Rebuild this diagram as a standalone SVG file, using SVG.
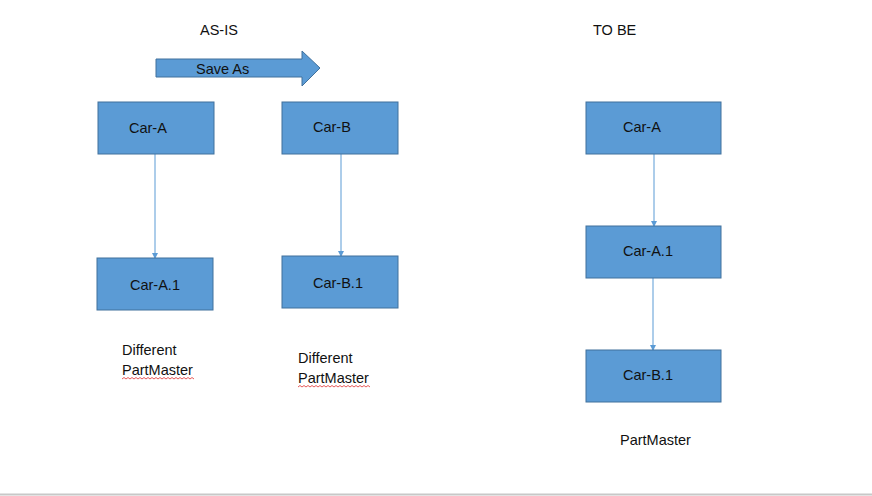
<svg xmlns="http://www.w3.org/2000/svg" width="872" height="496" viewBox="0 0 872 496">
<style>
.box{fill:#5B9BD5;stroke:#41719C;stroke-width:1}
.t{font-family:"Liberation Sans",Arial,sans-serif;font-size:14.5px;fill:#111}
.c{stroke:#5B9BD5;stroke-width:1;fill:none;marker-end:url(#ah)}
.sq{stroke:#e03030;stroke-width:0.8;fill:none}
</style>
<defs>
<marker id="ah" markerWidth="6" markerHeight="6" refX="5" refY="3" orient="auto" markerUnits="userSpaceOnUse">
<path d="M0,0 L6,3 L0,6 Z" fill="#5B9BD5"/>
</marker>
</defs>
<rect x="0" y="0" width="872" height="496" fill="#fff"/>
<text class="t" x="200" y="35">AS-IS</text>
<text class="t" x="593" y="35">TO BE</text>
<g id="saveas">
<path d="M156,59 L302,59 L302,51 L320,68 L302,86 L302,77 L156,77 Z" fill="#5B9BD5" stroke="#41719C" stroke-width="1"/>
<text class="t" x="196" y="74">Save As</text>
</g>
<g id="connectors">
<line class="c" x1="155" y1="154" x2="155" y2="258"/>
<line class="c" x1="341" y1="154" x2="341" y2="256"/>
<line class="c" x1="654" y1="154" x2="654" y2="226"/>
<line class="c" x1="653" y1="278" x2="653" y2="350"/>
</g>
<g id="carA"><rect class="box" x="98" y="102" width="116" height="52"/><text class="t" x="129" y="133">Car-A</text></g>
<g id="carA1"><rect class="box" x="97" y="258" width="116" height="52"/><text class="t" x="130" y="290">Car-A.1</text></g>
<g id="carB"><rect class="box" x="282" y="102" width="116" height="52"/><text class="t" x="313" y="132">Car-B</text></g>
<g id="carB1"><rect class="box" x="282" y="256" width="116" height="52"/><text class="t" x="313" y="288">Car-B.1</text></g>
<g id="tcarA"><rect class="box" x="586" y="102" width="135" height="52"/><text class="t" x="623" y="132">Car-A</text></g>
<g id="tcarA1"><rect class="box" x="586" y="226" width="135" height="52"/><text class="t" x="623" y="256">Car-A.1</text></g>
<g id="tcarB1"><rect class="box" x="586" y="350" width="135" height="52"/><text class="t" x="623" y="380">Car-B.1</text></g>
<g id="labels">
<text class="t" x="122" y="355">Different</text>
<text class="t" x="122" y="375">PartMaster</text>
<path class="sq" d="M122,379 l2,-1.5 l2,1.5 l2,-1.5 l2,1.5 l2,-1.5 l2,1.5 l2,-1.5 l2,1.5 l2,-1.5 l2,1.5 l2,-1.5 l2,1.5 l2,-1.5 l2,1.5 l2,-1.5 l2,1.5 l2,-1.5 l2,1.5 l2,-1.5 l2,1.5 l2,-1.5 l2,1.5 l2,-1.5 l2,1.5 l2,-1.5 l2,1.5 l2,-1.5 l2,1.5 l2,-1.5 l2,1.5 l2,-1.5 l2,1.5 l2,-1.5 l2,1.5 l2,-1.5 l2,1.5"/>
<text class="t" x="298" y="363">Different</text>
<text class="t" x="298" y="383">PartMaster</text>
<path class="sq" d="M298,387 l2,-1.5 l2,1.5 l2,-1.5 l2,1.5 l2,-1.5 l2,1.5 l2,-1.5 l2,1.5 l2,-1.5 l2,1.5 l2,-1.5 l2,1.5 l2,-1.5 l2,1.5 l2,-1.5 l2,1.5 l2,-1.5 l2,1.5 l2,-1.5 l2,1.5 l2,-1.5 l2,1.5 l2,-1.5 l2,1.5 l2,-1.5 l2,1.5 l2,-1.5 l2,1.5 l2,-1.5 l2,1.5 l2,-1.5 l2,1.5 l2,-1.5 l2,1.5 l2,-1.5 l2,1.5"/>
<text class="t" x="620" y="445">PartMaster</text>
</g>
<line x1="0" y1="494.5" x2="872" y2="494.5" stroke="#c8c8c8" stroke-width="2"/>
</svg>
